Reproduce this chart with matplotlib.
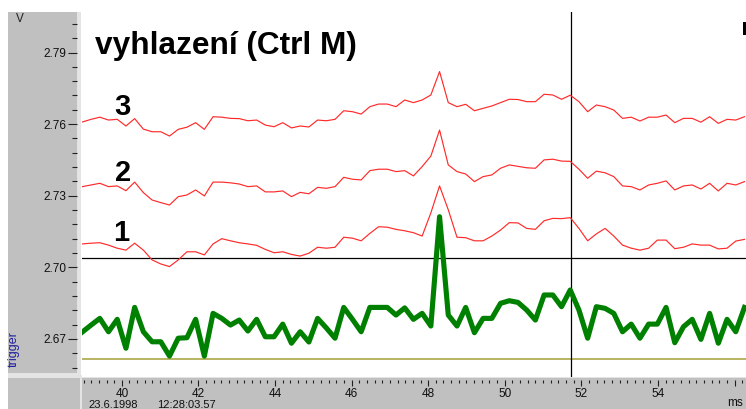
import numpy as np
import matplotlib
matplotlib.use("Agg")
import matplotlib.pyplot as plt
from matplotlib.patches import Rectangle
from matplotlib.ticker import MultipleLocator, FixedLocator, FixedFormatter

plt.rcParams['font.family'] = ['Liberation Sans', 'DejaVu Sans']

# ---------------- data ----------------
SAMPLE_START_MS = 38.97
SAMPLE_STEP_MS = 0.2275

trigger = [2.6729, 2.6758, 2.6786, 2.6730, 2.6782, 2.6661, 2.6832, 2.6730, 2.6688, 2.6688,
           2.6628, 2.6703, 2.6705, 2.6782, 2.6628, 2.6807, 2.6786, 2.6758, 2.6779, 2.6733,
           2.6782, 2.6709, 2.6709, 2.6762, 2.6682, 2.6730, 2.6687, 2.6786, 2.6746, 2.6703,
           2.6832, 2.6782, 2.6730, 2.6832, 2.6832, 2.6832, 2.6800, 2.6830, 2.6782, 2.6807,
           2.6754, 2.7212, 2.6800, 2.6754, 2.6832, 2.6726, 2.6786, 2.6786, 2.6849, 2.6860,
           2.6853, 2.6821, 2.6779, 2.6884, 2.6884, 2.6835, 2.6905, 2.6821, 2.6703, 2.6835,
           2.6828, 2.6807, 2.6730, 2.6762, 2.6703, 2.6762, 2.6762, 2.6832, 2.6684, 2.6751,
           2.6782, 2.6698, 2.6807, 2.6682, 2.6782, 2.6730, 2.6832]

smooth_1 = [2.7098, 2.7101, 2.7103, 2.7093, 2.7080, 2.7072, 2.7101, 2.7072, 2.7031, 2.7014,
            2.7003, 2.7031, 2.7065, 2.7065, 2.7052, 2.7098, 2.7120, 2.7111, 2.7103, 2.7098,
            2.7092, 2.7075, 2.7061, 2.7065, 2.7054, 2.7047, 2.7059, 2.7084, 2.7080, 2.7084,
            2.7126, 2.7122, 2.7111, 2.7142, 2.7170, 2.7168, 2.7159, 2.7153, 2.7145, 2.7131,
            2.7228, 2.7341, 2.7241, 2.7126, 2.7124, 2.7111, 2.7111, 2.7131, 2.7156, 2.7187,
            2.7186, 2.7163, 2.7159, 2.7195, 2.7205, 2.7204, 2.7208, 2.7163, 2.7111, 2.7140,
            2.7163, 2.7131, 2.7093, 2.7080, 2.7072, 2.7080, 2.7114, 2.7114, 2.7078, 2.7084,
            2.7098, 2.7093, 2.7093, 2.7077, 2.7080, 2.7110, 2.7117]

smooth_2 = [2.7338, 2.7345, 2.7352, 2.7338, 2.7341, 2.7321, 2.7357, 2.7313, 2.7282, 2.7271,
            2.7261, 2.7296, 2.7303, 2.7324, 2.7299, 2.7357, 2.7357, 2.7354, 2.7349, 2.7338,
            2.7341, 2.7316, 2.7316, 2.7320, 2.7296, 2.7314, 2.7308, 2.7335, 2.7331, 2.7338,
            2.7377, 2.7369, 2.7366, 2.7405, 2.7411, 2.7411, 2.7401, 2.7405, 2.7383, 2.7422,
            2.7466, 2.7575, 2.7429, 2.7401, 2.7391, 2.7359, 2.7380, 2.7387, 2.7415, 2.7429,
            2.7423, 2.7417, 2.7415, 2.7450, 2.7453, 2.7445, 2.7444, 2.7411, 2.7373, 2.7403,
            2.7396, 2.7380, 2.7341, 2.7338, 2.7324, 2.7345, 2.7352, 2.7362, 2.7324, 2.7341,
            2.7345, 2.7328, 2.7352, 2.7320, 2.7352, 2.7345, 2.7359]

smooth_3 = [2.7609, 2.7620, 2.7629, 2.7617, 2.7620, 2.7592, 2.7623, 2.7579, 2.7568, 2.7568,
            2.7550, 2.7578, 2.7587, 2.7606, 2.7578, 2.7631, 2.7629, 2.7624, 2.7623, 2.7614,
            2.7617, 2.7596, 2.7589, 2.7606, 2.7584, 2.7592, 2.7588, 2.7617, 2.7614, 2.7620,
            2.7656, 2.7652, 2.7642, 2.7673, 2.7684, 2.7684, 2.7673, 2.7701, 2.7690, 2.7701,
            2.7722, 2.7820, 2.7690, 2.7673, 2.7683, 2.7656, 2.7666, 2.7676, 2.7690, 2.7704,
            2.7703, 2.7694, 2.7694, 2.7725, 2.7722, 2.7704, 2.7721, 2.7694, 2.7652, 2.7680,
            2.7673, 2.7659, 2.7624, 2.7629, 2.7613, 2.7629, 2.7629, 2.7638, 2.7606, 2.7624,
            2.7624, 2.7608, 2.7631, 2.7603, 2.7620, 2.7617, 2.7631]

cursor_ms = 51.73
level_black = 2.7038
level_trigger = 2.6616

x_ticks = [40, 42, 44, 46, 48, 50, 52, 54, 56]
x_tick_labels = ['40', '42', '44', '46', '48', '50', '52', '54', '']
y_ticks = [2.67, 2.70, 2.73, 2.76, 2.79]
y_tick_labels = ['2.67', '2.70', '2.73', '2.76', '2.79']
curve_labels = ['1', '2', '3']
title_text = 'vyhlazení (Ctrl M)'
date_text = '23.6.1998'
time_text = '12:28:03.57'

t = SAMPLE_START_MS + SAMPLE_STEP_MS * np.arange(len(trigger))

# ---------------- figure ----------------
W, H = 746, 409
fig = plt.figure(figsize=(W / 100, H / 100), dpi=100)
fig.patch.set_facecolor('white')


def fx(x):
    return x / W


def fy(y):
    return 1 - y / H


GRAY = '#c0c0c0'
LIGHT = '#e4e4e4'
# left panel
fig.add_artist(Rectangle((fx(8), fy(373)), fx(77) - fx(8), fy(12) - fy(373),
                         transform=fig.transFigure, facecolor=GRAY, edgecolor='none', zorder=-2))
fig.add_artist(Rectangle((fx(77), fy(375)), fx(81) - fx(77), fy(12) - fy(375),
                         transform=fig.transFigure, facecolor=LIGHT, edgecolor='none', zorder=-2))
fig.add_artist(Rectangle((fx(8), fy(375)), fx(81) - fx(8), fy(373) - fy(375),
                         transform=fig.transFigure, facecolor=LIGHT, edgecolor='none', zorder=-2))
# bottom panel
fig.add_artist(Rectangle((fx(8), fy(409)), fx(746) - fx(8), fy(378) - fy(409),
                         transform=fig.transFigure, facecolor=GRAY, edgecolor='none', zorder=-2))
fig.add_artist(Rectangle((fx(8), fy(378)), fx(746) - fx(8), fy(375) - fy(378),
                         transform=fig.transFigure, facecolor=LIGHT, edgecolor='none', zorder=-2))
fig.add_artist(Rectangle((fx(80), fy(409)), fx(82) - fx(80), fy(378) - fy(409),
                         transform=fig.transFigure, facecolor=LIGHT, edgecolor='none', zorder=-2))
# small clipped mark at the top right corner
fig.add_artist(Rectangle((fx(743), fy(35)), fx(746) - fx(743), fy(22) - fy(35),
                         transform=fig.transFigure, facecolor='black', edgecolor='none', zorder=6))

ax = fig.add_axes([fx(82), fy(377), fx(746) - fx(82), fy(12) - fy(377)])
ax.set_facecolor('white')
ax.set_xlim(38.96, 56.30)
ax.set_ylim(2.65404, 2.80697)
for s in ['top', 'right']:
    ax.spines[s].set_visible(False)
ax.spines['left'].set_position(('outward', 3.6))
ax.spines['bottom'].set_position(('outward', 2.2))
ax.spines['left'].set_visible(False)
ax.spines['bottom'].set_visible(False)

ax.xaxis.set_major_locator(FixedLocator(x_ticks))
ax.xaxis.set_major_formatter(FixedFormatter(x_tick_labels))
ax.xaxis.set_minor_locator(MultipleLocator(0.2))
ax.yaxis.set_major_locator(FixedLocator(y_ticks))
ax.yaxis.set_major_formatter(FixedFormatter(y_tick_labels))
ax.yaxis.set_minor_locator(MultipleLocator(0.006))

ax.tick_params(axis='y', which='major', direction='out', length=6.5, width=0.8,
               color='#202020', labelsize=8.5, pad=1.2, labelcolor='#101010')
ax.tick_params(axis='y', which='minor', direction='out', length=3.6, width=0.8, color='#202020')
ax.tick_params(axis='x', which='major', direction='out', length=4.3, width=0.8,
               color='#202020', labelsize=8.5, pad=1.6, labelcolor='#101010')
ax.tick_params(axis='x', which='minor', direction='out', length=2.2, width=0.8, color='#202020')

# reference lines
ax.axhline(level_trigger, color='#a3a035', lw=1.1, zorder=1)
ax.axhline(level_black, color='black', lw=0.9, zorder=1)
ax.axvline(cursor_ms, color='black', lw=0.9, zorder=1)

# data
for series in (smooth_1, smooth_2, smooth_3):
    ax.plot(t, series, color='#ff2a2a', lw=0.85, zorder=3)
ax.plot(t, trigger, color='#008000', lw=3.7, solid_joinstyle='round', zorder=4)

# curve labels
ax.text(39.99, 2.7144, curve_labels[0], fontsize=21, fontweight='bold', ha='center', va='center', zorder=5)
ax.text(40.02, 2.7395, curve_labels[1], fontsize=21, fontweight='bold', ha='center', va='center', zorder=5)
ax.text(40.02, 2.7673, curve_labels[2], fontsize=21, fontweight='bold', ha='center', va='center', zorder=5)

# title
fig.text(fx(95), fy(54), title_text, fontsize=22.8, fontweight='bold', ha='left', va='baseline')

# unit and labels
fig.text(fx(20), fy(19), 'V', fontsize=8.5, ha='center', va='center', color='#202020')
fig.text(fx(13.5), fy(349), 'trigger', fontsize=9, ha='center', va='center',
         rotation=90, color='#2020a0')
fig.text(fx(88), fy(408), date_text, fontsize=8, ha='left', va='baseline', color='#101010')
fig.text(fx(157), fy(408), time_text, fontsize=8, ha='left', va='baseline', color='#101010')
fig.text(fx(735), fy(403), 'ms', fontsize=8.5, ha='center', va='center', color='#101010')

fig.savefig('out.png', dpi=100)
